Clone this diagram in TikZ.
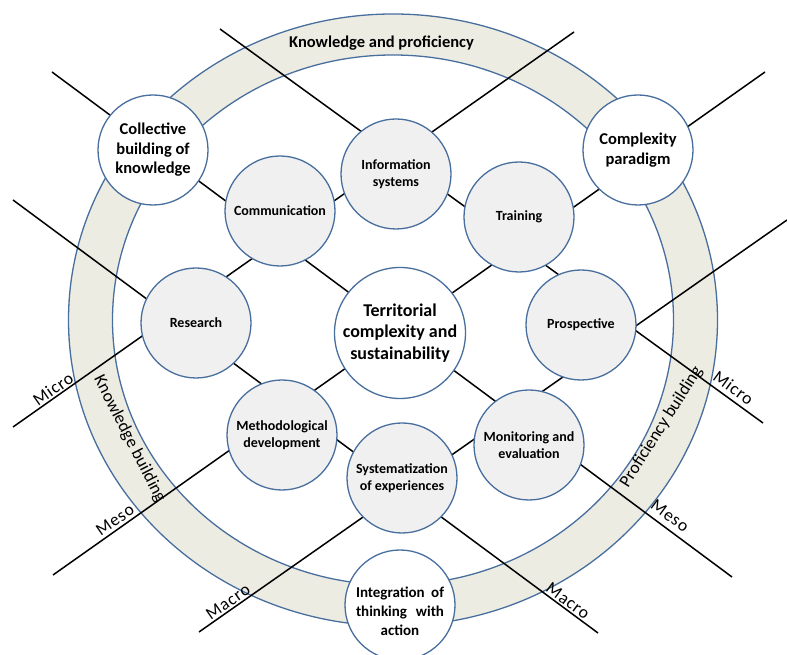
\documentclass[tikz,border=0pt]{standalone}
\usepackage{fontspec}
\setmainfont{Carlito}
\newfontfamily\spacedfont[LetterSpace=5]{Carlito}
\definecolor{edgeblue}{RGB}{72,110,158}
\definecolor{ringfill}{RGB}{237,236,227}
\definecolor{nodefill}{RGB}{240,240,240}
\tikzset{
  innernode/.style={circle, draw=edgeblue, line width=1.3pt, fill=nodefill, minimum size=110pt, inner sep=0pt, align=center, font=\bfseries\fontsize{14}{17.5}\selectfont},
  outernode/.style={circle, draw=edgeblue, line width=1.3pt, fill=white, minimum size=110pt, inner sep=0pt, align=center, font=\bfseries\fontsize{16.5}{19.5}\selectfont},
  gridline/.style={line width=1.5pt, black},
  scalelabel/.style={font=\spacedfont\fontsize{17.5}{20}\selectfont, inner sep=0pt},
  ringlabel/.style={font=\fontsize{17.5}{20}\selectfont, inner sep=0pt},
}
\begin{document}
\begin{tikzpicture}[x=1pt,y=1pt]
\useasboundingbox (0,0) rectangle (787,655);
% ring
\fill[ringfill, even odd rule] (393,335) ellipse [x radius=324.5pt, y radius=306pt]
  (393,335) ellipse [x radius=280.5pt, y radius=265pt];
\draw[edgeblue, line width=1.3pt] (393,335) ellipse [x radius=324.5pt, y radius=306pt];
\draw[edgeblue, line width=1.3pt] (393,335) ellipse [x radius=280.5pt, y radius=265pt];
\node[font=\bfseries\fontsize{16.5}{20}\selectfont, inner sep=0pt] (toplabel) at (381.5,611.5) {Knowledge and proficiency};
\node[ringlabel, rotate=-63] (kbuild) at (129.5,216) {Knowledge building};
\node[ringlabel, rotate=57.6] (pbuild) at (661.5,228) {Proficiency building};
% grid line ends
\coordinate (l1a) at (220,626); \coordinate (l1b) at (763,232);
\coordinate (l2a) at (52,583);  \coordinate (l2b) at (732,78);
\coordinate (l3a) at (13,455);  \coordinate (l3b) at (598,22);
\coordinate (r1a) at (574,623); \coordinate (r1b) at (13,228);
\coordinate (r2a) at (765,583); \coordinate (r2b) at (53,80);
\coordinate (r3a) at (787,435); \coordinate (r3b) at (199,23);
\draw[gridline] (l1a) -- (l1b);
\draw[gridline] (l2a) -- (l2b);
\draw[gridline] (l3a) -- (l3b);
\draw[gridline] (r1a) -- (r1b);
\draw[gridline] (r2a) -- (r2b);
\draw[gridline] (r3a) -- (r3b);
% nodes
\node[outernode] (collective) at (153,505) {Collective\\building of\\knowledge};
\node[innernode] (communication) at (280,444) {Communication};
\node[innernode] (info) at (396,481) {Information\\systems};
\node[innernode] (training) at (519,438) {Training};
\node[outernode] (complexity) at (638,505) {Complexity\\paradigm};
\node[innernode] (prospective) at (581,330) {Prospective};
\node[innernode] (research) at (196,332) {Research};
\node[outernode, minimum size=131pt, font=\bfseries\fontsize{18}{21.5}\selectfont] (territorial) at (400,322) {Territorial\\complexity and\\sustainability};
\node[innernode] (method) at (282,220) {Methodological\\development};
\node[innernode] (system) at (402,177) {Systematization\\of experiences};
\node[innernode] (monitor) at (529,210) {Monitoring and\\evaluation};
\node[outernode] (integration) at (400,50) {};
\node[font=\bfseries\fontsize{15}{19}\selectfont, align=center, inner sep=0pt] (integtext) at (400,44)
  {\makebox[88pt][s]{Integration of}\\\makebox[88pt][s]{thinking with}\\action};
% scale labels
\node[scalelabel, rotate=35] (microL) at (53,266) {Micro};
\node[scalelabel, rotate=35] (mesoL) at (115,135) {Meso};
\node[scalelabel, rotate=35] (macroL) at (228,53) {Macro};
\node[scalelabel, rotate=-36] (microR) at (733.5,267) {Micro};
\node[scalelabel, rotate=-36.5] (mesoR) at (670,139) {Meso};
\node[scalelabel, rotate=-36.5] (macroR) at (568,54) {Macro};
\end{tikzpicture}
\end{document}
